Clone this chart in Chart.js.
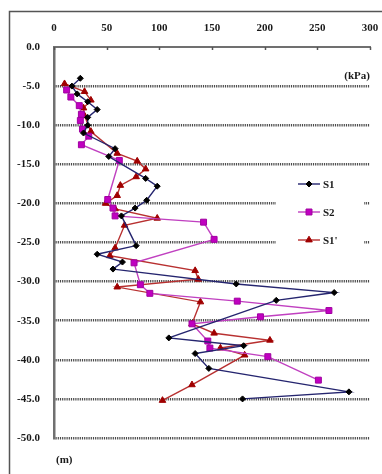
<!DOCTYPE html>
<html>
<head>
<meta charset="utf-8">
<script src="https://cdn.jsdelivr.net/npm/chart.js@4.4.0/dist/chart.umd.min.js"></script>
<style>
html, body { margin: 0; padding: 0; background: #fff; }
#wrap { width: 382px; height: 474px; }
</style>
</head>
<body>
<div id="wrap"><canvas id="chart" width="382" height="474"></canvas></div>
<script>
// Depth (m) and earth pressure (kPa)
const s1Depth = [-4.0, -5.0, -6.0, -7.0, -8.0, -9.0, -10.0, -11.0, -13.0, -14.0, -16.8, -17.8, -19.6, -20.6, -21.6, -25.4, -26.5, -27.5, -28.4, -30.3, -31.4, -32.4, -37.2, -38.2, -39.2, -41.1, -44.1, -45.0];
const s1Value = [25, 17, 22, 32, 41, 32, 32, 28, 58, 52, 87, 98, 88, 77, 64, 78, 41, 65, 56, 173, 266, 211, 109, 180, 134, 147, 280, 179];

const s2Depth = [-5.5, -6.4, -7.5, -8.6, -9.4, -10.5, -11.4, -12.5, -14.5, -19.5, -20.6, -21.6, -22.4, -24.6, -27.6, -30.4, -31.5, -32.5, -33.7, -34.5, -35.4, -37.6, -38.5, -39.6, -42.6];
const s2Value = [12, 16, 24, 26, 25, 27, 33, 26, 62, 51, 56, 58, 142, 152, 76, 82, 91, 174, 261, 196, 131, 146, 148, 203, 251];

const s1pDepth = [-4.7, -5.7, -6.8, -7.8, -8.8, -10.8, -13.6, -14.6, -15.6, -16.6, -17.7, -19.0, -20.0, -20.7, -21.9, -22.8, -25.7, -26.7, -28.6, -29.7, -30.7, -32.6, -35.4, -36.6, -37.5, -38.5, -39.4, -43.2, -45.2];
const s1pValue = [10, 29, 35, 28, 29, 35, 60, 79, 87, 78, 63, 60, 49, 58, 98, 67, 58, 53, 134, 137, 60, 139, 131, 152, 205, 158, 181, 131, 103];

const seriesNames = ['S1', 'S2', "S1'"];
const xTicks = [0, 50, 100, 150, 200, 250, 300];
const yTicks = [0, -5, -10, -15, -20, -25, -30, -35, -40, -45, -50];

const FONT = 'Liberation Serif, Times New Roman, serif';

function toPoints(values, depths) {
    return values.map((v, i) => ({ x: v, y: depths[i] }));
}

// Frame, unit labels, inner tick marks and legend box
const decorPlugin = {
    id: 'decor',
    afterDatasetsDraw(chart) {
        const ctx = chart.ctx;
        const xs = chart.scales.x;
        const area = chart.chartArea;

        ctx.save();
        // small ticks under the top axis
        ctx.strokeStyle = '#555';
        ctx.lineWidth = 1.5;
        xTicks.forEach(t => {
            const px = Math.round(xs.getPixelForValue(t)) + 0.5;
            ctx.beginPath();
            ctx.moveTo(px, area.top);
            ctx.lineTo(px, area.top + 3);
            ctx.stroke();
        });

        // unit labels
        ctx.fillStyle = '#1a1a1a';
        ctx.font = 'bold 11px ' + FONT;
        ctx.textBaseline = 'middle';
        ctx.textAlign = 'right';
        ctx.fillText('(kPa)', area.right, 76);
        ctx.textAlign = 'left';
        ctx.fillText('(m)', 56, 460);

        // legend
        const lx = 276, ly = 168;
        ctx.fillStyle = '#fff';
        ctx.fillRect(lx, ly, 88, 86);
        chart.data.datasets.forEach((ds, i) => {
            const cy = 184 + i * 28;
            ctx.strokeStyle = ds.borderColor;
            ctx.lineWidth = ds.borderWidth;
            ctx.beginPath();
            ctx.moveTo(298, cy);
            ctx.lineTo(320, cy);
            ctx.stroke();
            ctx.fillStyle = ds.pointBackgroundColor;
            ctx.strokeStyle = ds.pointBorderColor;
            ctx.lineWidth = 1;
            Chart.helpers.drawPoint(ctx, {
                pointStyle: ds.pointStyle,
                radius: ds.pointRadius,
                rotation: 0,
                borderWidth: 1
            }, 309, cy);
            ctx.fillStyle = '#1a1a1a';
            ctx.font = 'bold 11px ' + FONT;
            ctx.textAlign = 'left';
            ctx.fillText(ds.label, 323, cy + 1);
        });
        ctx.restore();
    },
    afterDraw(chart) {
        const ctx = chart.ctx;
        ctx.save();
        ctx.strokeStyle = '#555';
        ctx.lineWidth = 1.5;
        ctx.beginPath();
        ctx.moveTo(9.5, 474);
        ctx.lineTo(9.5, 11.5);
        ctx.lineTo(382, 11.5);
        ctx.stroke();
        ctx.restore();
    }
};

new Chart(document.getElementById('chart').getContext('2d'), {
    type: 'scatter',
    data: {
        datasets: [
            {
                label: seriesNames[0],
                data: toPoints(s1Value, s1Depth),
                showLine: true,
                borderColor: '#25256f',
                borderWidth: 1.4,
                pointStyle: 'rectRot',
                pointRadius: 3,
                pointBackgroundColor: '#000',
                pointBorderColor: '#000',
                pointBorderWidth: 1
            },
            {
                label: seriesNames[1],
                data: toPoints(s2Value, s2Depth),
                showLine: true,
                borderColor: '#c040c0',
                borderWidth: 1.4,
                pointStyle: 'rect',
                pointRadius: 4.2,
                pointBackgroundColor: '#c000c0',
                pointBorderColor: '#a000a0',
                pointBorderWidth: 1
            },
            {
                label: seriesNames[2],
                data: toPoints(s1pValue, s1pDepth),
                showLine: true,
                borderColor: '#b83030',
                borderWidth: 1.4,
                pointStyle: 'triangle',
                pointRadius: 3.8,
                pointBackgroundColor: '#a00000',
                pointBorderColor: '#a00000',
                pointBorderWidth: 1
            }
        ]
    },
    options: {
        responsive: false,
        animation: false,
        devicePixelRatio: 1,
        layout: { padding: { left: 0, top: 0, right: 12, bottom: 36 } },
        plugins: {
            legend: { display: false },
            tooltip: { enabled: false }
        },
        scales: {
            x: {
                type: 'linear',
                position: 'top',
                min: 0,
                max: 300,
                afterBuildTicks: scale => { scale.ticks = xTicks.map(v => ({ value: v })); },
                afterFit: scale => {
                    scale.height = 47;
                    scale.paddingLeft = 0;
                    scale.paddingRight = 0;
                },
                grid: { display: false, drawTicks: false },
                border: { display: true, color: '#707070', width: 2 },
                ticks: {
                    padding: 12,
                    color: '#1a1a1a',
                    font: { family: FONT, size: 11, weight: 'bold' },
                    maxRotation: 0
                }
            },
            y: {
                type: 'linear',
                position: 'left',
                min: -50,
                max: 0,
                afterBuildTicks: scale => { scale.ticks = yTicks.map(v => ({ value: v })); },
                afterFit: scale => {
                    scale.width = 54;
                    scale.paddingTop = 0;
                    scale.paddingBottom = 0;
                },
                grid: {
                    drawTicks: false,
                    lineWidth: 2.5,
                    color: ctx => (ctx.tick && ctx.tick.value === 0) ? 'rgba(0,0,0,0)' : '#4a4a4a'
                },
                border: { display: true, color: '#707070', width: 2.5, dash: [1.2, 1] },
                ticks: {
                    padding: 14,
                    color: '#1a1a1a',
                    font: { family: FONT, size: 11, weight: 'bold' },
                    callback: v => Number(v).toFixed(1)
                }
            }
        }
    },
    plugins: [decorPlugin]
});
</script>
</body>
</html>
